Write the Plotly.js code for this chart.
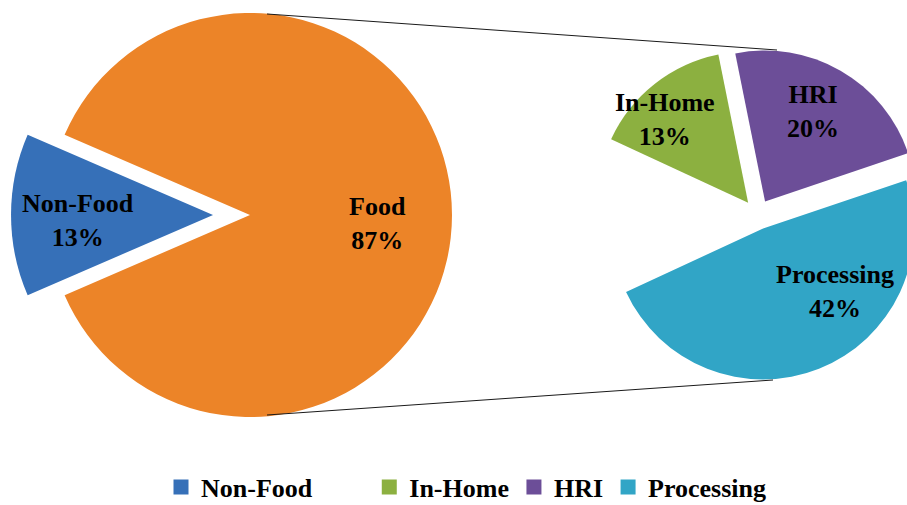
<!DOCTYPE html>
<html>
<head>
<meta charset="utf-8">
<script src="https://cdn.plot.ly/plotly-3.0.1.min.js"></script>
<style>
  html, body { margin: 0; padding: 0; background: #ffffff; }
  #frame { position: relative; width: 907px; height: 505px; overflow: hidden; background: #ffffff; }
  #chart { position: absolute; left: 0; top: -40px; width: 1000px; height: 600px; }
</style>
</head>
<body>
<div id="frame"><div id="chart"></div></div>
<script>
// ---- data ----
const primaryLabels = ['Non-Food', 'Food'];
const primaryValues = [13, 87];
const secondaryLabels = ['In-Home', 'HRI', 'Processing'];
const secondaryValues = [13, 20, 42];
const legendLabels = ['Non-Food', ' ', 'In-Home', 'HRI', 'Processing'];

// ---- styles / geometry ----
const W = 1000, H = 600, T = 40;           // plot canvas, shifted up by T px
const FONT = 'Liberation Serif, Times New Roman, serif';
const primaryColors = ['#3670B8', '#EC8428'];
const secondaryColors = ['#8CB040', '#6C4E98', '#31A5C6'];
const P1 = { cx: 250, cy: 215, r: 202, pull: 0.183 };
const P2 = { cx: 757.5, cy: 214.5, r: 151, pull: 0.1 };
const labelPos = {
  'Non-Food': [78, 220.6], 'Food': [377, 223.6],
  'In-Home': [665, 119.6], 'HRI': [813, 111.6], 'Processing': [835, 291.6]
};
const connectors = [[267, 14, 777, 50], [267, 415, 773, 380]];

const px = x => x / W;
const py = y => 1 - (y + T) / H;
function domainFor(p) {
  const h = p.r * (1 + p.pull);
  return { x: [px(p.cx - h), px(p.cx + h)], y: [py(p.cy + h), py(p.cy - h)] };
}

// derived: remainder of Food that is shown as an empty gap in the secondary pie
const foodTotal = primaryValues[1];
const otherValue = foodTotal - secondaryValues.reduce((a, b) => a + b, 0);

const nfAngle = primaryValues[0] / primaryValues.reduce((a, b) => a + b, 0) * 360;
const gapAngle = otherValue / foodTotal * 360;

const traces = [
  {
    type: 'pie', labels: primaryLabels, values: primaryValues, sort: false,
    direction: 'clockwise', rotation: -90 - nfAngle / 2,
    pull: [P1.pull, 0], domain: domainFor(P1),
    marker: { colors: primaryColors, line: { width: 0 } },
    textinfo: 'none', hoverinfo: 'skip', showlegend: false
  },
  {
    type: 'pie', labels: secondaryLabels.concat(['Other']),
    values: secondaryValues.concat([otherValue]), sort: false,
    direction: 'clockwise', rotation: -90 + gapAngle / 2,
    pull: [P2.pull, P2.pull, P2.pull, 0], domain: domainFor(P2),
    marker: { colors: secondaryColors.concat(['rgba(0,0,0,0)']), line: { width: 0 } },
    textinfo: 'none', hoverinfo: 'skip', showlegend: false
  }
];

// legend entries
const legendColors = [primaryColors[0], 'rgba(0,0,0,0)'].concat(secondaryColors);
legendLabels.forEach((name, i) => {
  traces.push({
    type: 'scatter', mode: 'markers', x: [null], y: [null], name: name,
    marker: { symbol: 'square', size: 15, color: legendColors[i] },
    hoverinfo: 'skip', showlegend: true
  });
});

const items = [];
primaryLabels.forEach((name, i) => items.push({ name: name, value: primaryValues[i] }));
secondaryLabels.forEach((name, i) => items.push({ name: name, value: secondaryValues[i] }));
const annots = items.map(a => ({
  xref: 'paper', yref: 'paper',
  x: px(labelPos[a.name][0]), y: py(labelPos[a.name][1]),
  xanchor: 'center', yanchor: 'middle', showarrow: false,
  text: a.name + '<br>' + a.value + '%',
  font: { family: FONT, size: 26, color: '#000000', weight: 'bold' }
}));

const shapes = connectors.map(c => ({
  type: 'line', xref: 'paper', yref: 'paper',
  x0: px(c[0]), y0: py(c[1]), x1: px(c[2]), y1: py(c[3]),
  line: { color: '#1a1a1a', width: 1 }
}));

const layout = {
  width: W, height: H,
  margin: { l: 0, r: 0, t: 0, b: 0 },
  paper_bgcolor: '#ffffff', plot_bgcolor: '#ffffff',
  xaxis: { visible: false, range: [0, 1] },
  yaxis: { visible: false, range: [0, 1] },
  hovermode: false,
  showlegend: true,
  legend: {
    orientation: 'h', x: px(161), xanchor: 'left', y: py(487), yanchor: 'middle',
    font: { family: FONT, size: 26, color: '#000000', weight: 'bold' },
    bgcolor: 'rgba(0,0,0,0)', traceorder: 'normal'
  },
  annotations: annots,
  shapes: shapes
};

Plotly.newPlot('chart', traces, layout, { displayModeBar: false, staticPlot: true });
</script>
</body>
</html>
